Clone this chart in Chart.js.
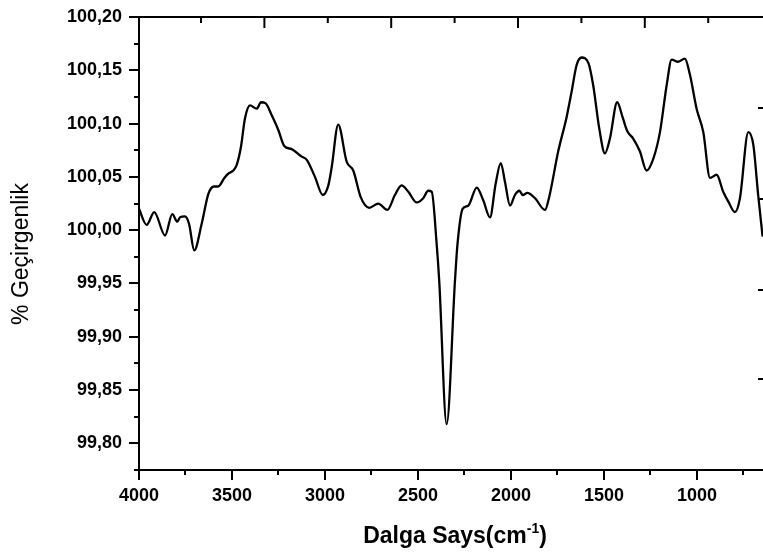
<!DOCTYPE html>
<html>
<head>
<meta charset="utf-8">
<script src="https://cdn.jsdelivr.net/npm/chart.js@4.4.1/dist/chart.umd.min.js"></script>
<style>
  html, body { margin: 0; padding: 0; background: #fff; overflow: hidden; }
</style>
</head>
<body>
<canvas id="ftirChart" width="763" height="556"></canvas>
<script>
// wave numbers (cm-1) from left to right
const waveNumbers = [
  4000, 3959, 3918, 3860, 3821, 3794, 3780, 3753, 3731, 3703,
  3663, 3627, 3597, 3574, 3541, 3520, 3493, 3475, 3452, 3430,
  3403, 3367, 3344, 3319, 3287, 3251, 3219, 3179, 3125, 3098,
  3054, 3012, 2982, 2964, 2929, 2883, 2848, 2808, 2762, 2713,
  2665, 2624, 2588, 2552, 2507, 2472, 2445, 2426, 2400, 2386,
  2346, 2301, 2287, 2260, 2230, 2184, 2149, 2113, 2082, 2055,
  2032, 2005, 1979, 1955, 1937, 1912, 1871, 1817, 1796, 1746,
  1701, 1674, 1647, 1620, 1584, 1558, 1525, 1495, 1468, 1429,
  1400, 1375, 1343, 1307, 1271, 1235, 1199, 1163, 1136, 1101,
  1065, 1038, 1002, 966, 930, 894, 859, 832, 796, 769,
  724, 697, 671, 647
];

// % transmittance at each wave number
const transmittance = [
  100.020, 100.005, 100.017, 99.995, 100.015, 100.008, 100.012, 100.013, 100.006, 99.981,
  100.006, 100.034, 100.041, 100.041, 100.049, 100.053, 100.056, 100.061, 100.078, 100.105,
  100.117, 100.114, 100.120, 100.119, 100.108, 100.094, 100.079, 100.076, 100.069, 100.066,
  100.050, 100.033, 100.042, 100.059, 100.099, 100.064, 100.056, 100.031, 100.021, 100.025,
  100.019, 100.033, 100.042, 100.036, 100.026, 100.030, 100.037, 100.036, 99.988, 99.953,
  99.818, 99.953, 99.988, 100.020, 100.023, 100.040, 100.028, 100.012, 100.044, 100.063,
  100.045, 100.023, 100.033, 100.037, 100.033, 100.035, 100.030, 100.019, 100.030, 100.074,
  100.106, 100.130, 100.155, 100.162, 100.157, 100.136, 100.095, 100.072, 100.086, 100.120,
  100.106, 100.093, 100.086, 100.074, 100.056, 100.067, 100.092, 100.136, 100.160, 100.158,
  100.161, 100.146, 100.114, 100.092, 100.049, 100.052, 100.036, 100.027, 100.017, 100.030,
  100.092, 100.080, 100.033, 99.994
];

// axis ticks (labelled ones are the majors)
const xTicks = [4000, 3750, 3500, 3250, 3000, 2750, 2500, 2250, 2000, 1750, 1500, 1250, 1000, 750];
const xMajorTicks = [4000, 3500, 3000, 2500, 2000, 1500, 1000];
const yTicks = [99.775, 99.80, 99.825, 99.85, 99.875, 99.90, 99.925, 99.95, 99.975,
  100.00, 100.025, 100.05, 100.075, 100.10, 100.125, 100.15, 100.175, 100.20];
const yMajorTicks = [99.80, 99.85, 99.90, 99.95, 100.00, 100.05, 100.10, 100.15, 100.20];

const xTitle = "Dalga Says(cm";
const xTitleSup = "-1";
const yTitle = "% Geçirgenlik";

const isMajor = (list, v) => list.some((m) => Math.abs(m - v) < 1e-6);

// frame, tick marks and axis titles, drawn like the Origin plot
const framePlugin = {
  id: "frame",
  afterDraw(chart) {
    const ctx = chart.ctx;
    const area = chart.chartArea;
    const xs = chart.scales.x;
    const ys = chart.scales.y;
    ctx.save();
    ctx.strokeStyle = "#000";
    ctx.lineWidth = 2;
    ctx.lineCap = "square";

    // left, bottom and top lines
    ctx.beginPath();
    ctx.moveTo(area.left, area.top);
    ctx.lineTo(area.left, area.bottom);
    ctx.lineTo(area.right, area.bottom);
    ctx.moveTo(area.left, area.top);
    ctx.lineTo(area.right, area.top);
    ctx.stroke();

    ctx.lineCap = "butt";
    ctx.beginPath();
    xTicks.forEach((v) => {
      const px = Math.round(xs.getPixelForValue(v));
      const len = isMajor(xMajorTicks, v) ? 10 : 5;
      ctx.moveTo(px, area.bottom);
      ctx.lineTo(px, area.bottom + len);
    });
    yTicks.forEach((v) => {
      const py = Math.round(ys.getPixelForValue(v));
      const len = isMajor(yMajorTicks, v) ? 10 : 5;
      ctx.moveTo(area.left, py);
      ctx.lineTo(area.left - len, py);
    });
    // inner ticks of the top axis
    for (let i = 0; i < 10; i++) {
      const px = area.left + 62 + i * 63.4;
      if (px > area.right) break;
      const len = i % 2 === 1 ? 11 : 6;
      ctx.moveTo(px, area.top);
      ctx.lineTo(px, area.top + len);
    }
    // inner ticks of the right axis (axis itself is cut off)
    [91, 182, 273, 362].forEach((dy) => {
      ctx.moveTo(area.right, area.top + dy);
      ctx.lineTo(area.right - 5, area.top + dy);
    });
    ctx.stroke();

    // y title
    ctx.fillStyle = "#000";
    ctx.font = '23px "Liberation Sans", Arial, sans-serif';
    ctx.textAlign = "center";
    ctx.textBaseline = "middle";
    ctx.save();
    ctx.translate(22, 254);
    ctx.rotate(-Math.PI / 2);
    ctx.fillText(yTitle, 0, 0);
    ctx.restore();

    // x title with superscript
    const mainFont = 'bold 23px "Liberation Sans", Arial, sans-serif';
    const supFont = 'bold 14px "Liberation Sans", Arial, sans-serif';
    ctx.textAlign = "left";
    ctx.textBaseline = "alphabetic";
    ctx.font = mainFont;
    const w1 = ctx.measureText(xTitle).width;
    const wp = ctx.measureText(")").width;
    ctx.font = supFont;
    const w2 = ctx.measureText(xTitleSup).width;
    const total = w1 + w2 + wp;
    let tx = (area.left + area.right) / 2 + 4 - total / 2;
    const base = 543;
    ctx.font = mainFont;
    ctx.fillText(xTitle, tx, base);
    tx += w1;
    ctx.font = supFont;
    ctx.fillText(xTitleSup, tx, base - 10);
    tx += w2;
    ctx.font = mainFont;
    ctx.fillText(")", tx, base);
    ctx.restore();
  },
};

const tickFont = { family: '"Liberation Sans", Arial, sans-serif', size: 18, weight: "bold" };

const ftirCtx = document.getElementById("ftirChart").getContext("2d");
const ftirChart = new Chart(ftirCtx, {
  type: "line",
  data: {
    datasets: [
      {
        data: waveNumbers.map((w, i) => ({ x: w, y: transmittance[i] })),
        borderColor: "#000",
        borderWidth: 2.3,
        pointRadius: 0,
        cubicInterpolationMode: "monotone",
        fill: false,
      },
    ],
  },
  options: {
    responsive: false,
    animation: false,
    layout: { padding: { top: 17, left: 0, right: 0, bottom: 0 } },
    plugins: {
      legend: { display: false },
      tooltip: { enabled: false },
    },
    scales: {
      x: {
        type: "linear",
        reverse: true,
        min: 645,
        max: 4000,
        grid: { display: false, drawTicks: false },
        border: { display: false },
        afterBuildTicks: (scale) => {
          scale.ticks = xTicks.map((v) => ({ value: v }));
        },
        afterFit: (scale) => {
          scale.height = 86;
          scale.paddingLeft = 0;
          scale.paddingRight = 0;
        },
        ticks: {
          autoSkip: false,
          maxRotation: 0,
          padding: 15,
          color: "#000",
          font: tickFont,
          callback: (v) => (isMajor(xMajorTicks, v) ? String(v) : ""),
        },
      },
      y: {
        min: 99.775,
        max: 100.20,
        grid: { display: false, drawTicks: false },
        border: { display: false },
        afterBuildTicks: (scale) => {
          scale.ticks = yTicks.map((v) => ({ value: v }));
        },
        afterFit: (scale) => {
          scale.width = 139;
          scale.paddingTop = 0;
          scale.paddingBottom = 0;
        },
        ticks: {
          autoSkip: false,
          padding: 17,
          color: "#000",
          font: tickFont,
          callback: (v) => (isMajor(yMajorTicks, v) ? v.toFixed(2).replace(".", ",") : ""),
        },
      },
    },
  },
  plugins: [framePlugin],
});
</script>
</body>
</html>
